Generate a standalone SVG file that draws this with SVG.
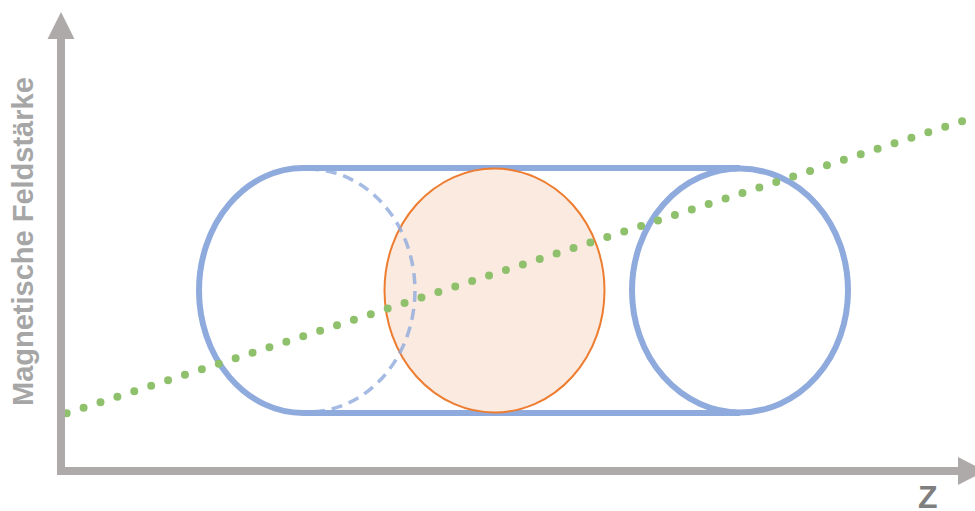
<svg xmlns="http://www.w3.org/2000/svg" width="975" height="511" viewBox="0 0 975 511">
<defs>
<style>
.axis{stroke:#aeaaaa;stroke-width:8;fill:none}
.head{fill:#aeaaaa}
.cyl{stroke:#8faadc;stroke-width:6;fill:none}
.dash{stroke:#8faadc;stroke-width:3.5;fill:none;stroke-dasharray:11 7;opacity:0.8}
.field{stroke:#8fc16d;stroke-width:8;fill:none;stroke-linecap:round;stroke-dasharray:0 17.77}
.lbl{font-family:"Liberation Sans",Arial,sans-serif;font-weight:bold}
</style>
</defs>
<rect width="975" height="511" fill="#ffffff"/>
<g id="cylinder">
<path class="cyl" d="M303 168 A104 122.5 0 0 0 303 413"/>
<line class="cyl" x1="303" y1="168" x2="740" y2="168"/>
<line class="cyl" x1="303" y1="413" x2="740" y2="413"/>
</g>
<g id="right-end">
<ellipse class="cyl" cx="740" cy="290.5" rx="108" ry="122"/>
</g>
<g id="sample">
<ellipse cx="494.5" cy="290.5" rx="110" ry="122" fill="#fbeae0" stroke="#ed7d31" stroke-width="2"/>
</g>
<g id="left-end-hidden">
<path class="dash" d="M308 169 A107 121.5 0 0 1 308 412"/>
</g>
<g id="connectors">
<line class="field" x1="66.7" y1="413.3" x2="963" y2="121"/>
</g>
<g id="axes">
<line class="axis" x1="61" y1="475" x2="61" y2="36"/>
<polygon class="head" points="61,12 47.5,39 74.5,39"/>
<line class="axis" x1="57" y1="471" x2="960" y2="471"/>
<polygon class="head" points="985,471 958,457 958,485"/>
</g>
<g id="labels">
<text class="lbl" x="0" y="0" font-size="29" fill="#a6a6a6" transform="translate(32.5,406) rotate(-90)">Magnetische Feldstärke</text>
<text class="lbl" x="918" y="508" font-size="32" fill="#7f7f7f">Z</text>
</g>
</svg>
